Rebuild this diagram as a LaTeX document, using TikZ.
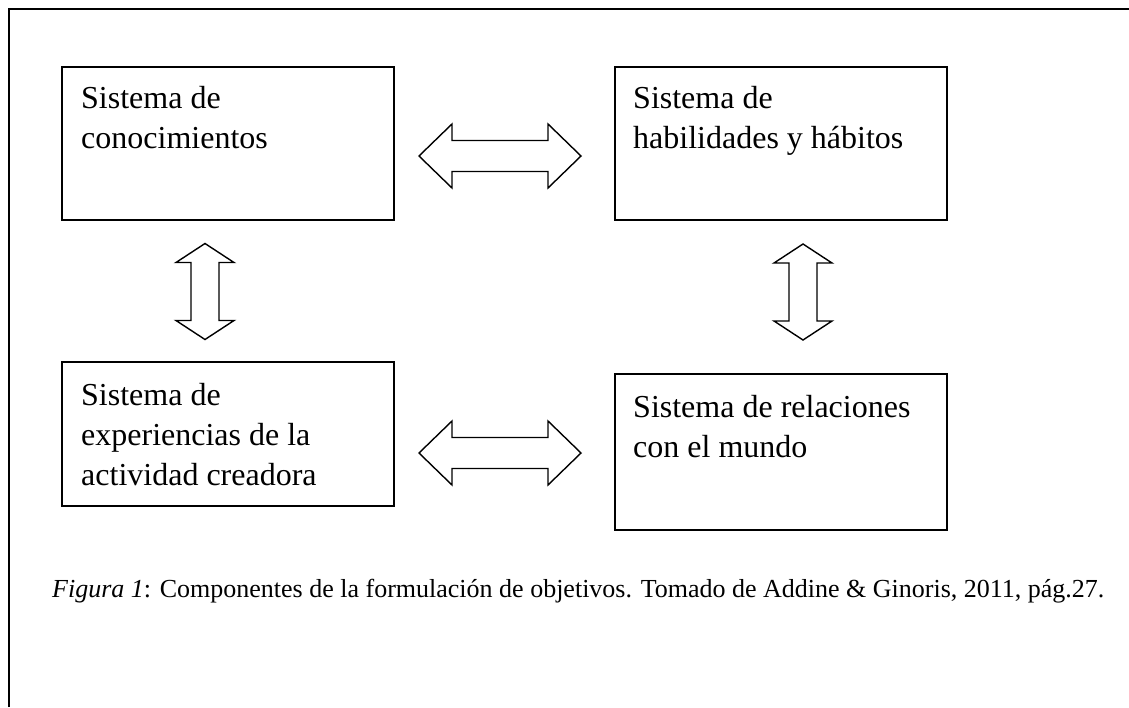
\documentclass[tikz,border=0pt]{standalone}
\usepackage{fontspec}
\setmainfont{Liberation Serif}
\usetikzlibrary{calc,positioning}

\tikzset{
  caja/.style={draw, line width=2pt, minimum width=332pt, minimum height=153pt,
               inner sep=0pt, anchor=north west},
  texto/.style={anchor=north west, inner sep=0pt, align=left,
                font=\fontsize{32}{40}\selectfont},
  flecha/.style={draw, line width=1.4pt, fill=white, line join=miter},
  pics/hflecha/.style={code={%%%%	Flecha doble horizontal
    \path[flecha] (-81,0) -- (-48,-32) -- (-48,-15.5) -- (48,-15.5) -- (48,-32)
      -- (81,0) -- (48,32) -- (48,15.5) -- (-48,15.5) -- (-48,32) -- cycle;}},
  pics/vflecha/.style={code={%%%%	Flecha doble vertical
    \path[flecha] (0,-48) -- (29,-29) -- (14,-29) -- (14,29) -- (29,29)
      -- (0,48) -- (-29,29) -- (-14,29) -- (-14,-29) -- (-29,-29) -- cycle;}}
}

\begin{document}
\begin{tikzpicture}[x=1pt,y=-1pt]
\useasboundingbox (0,0) rectangle (1129,707);

%%%%%%%%%%%%%%%%%%%%%%%%%%%%%%%%%%%%%%%%%%%%%%%% 	MARCO
\draw[line width=2pt] (9,707) -- (9,9) -- (1129,9);

%%%%%%%%%%%%%%%%%%%%%%%%%%%%%%%%%%%%%%%%%%%%%%%% 	CAJAS
\node[caja] (conoc) at (61,66) {};
\node[caja] (habil) at (614,66) {};
\node[caja, minimum height=144pt] (exper) at (61,361) {};
\node[caja, minimum height=156pt] (relac) at (614,373) {};

\node[texto] (tconoc) at ($(conoc.north west)+(20,20)$) {Sistema de\\conocimientos};
\node[texto] (thabil) at ($(habil.north west)+(19,20)$) {Sistema de\\habilidades y hábitos};
\node[texto] (texper) at ($(exper.north west)+(20,22)$) {Sistema de\\experiencias de la\\actividad creadora};
\node[texto] (trelac) at ($(relac.north west)+(19,22)$) {Sistema de relaciones\\con el mundo};

%%%%%%%%%%%%%%%%%%%%%%%%%%%%%%%%%%%%%%%%%%%%%%%% 	FLECHAS
\pic at ($(conoc.east)!.5!(habil.west)+(-4.5,12.5)$) {hflecha};
\pic at ($(exper.east)!.5!(relac.west)+(-4.5,10)$) {hflecha};
\pic at ($(conoc.south)!.5!(exper.north)+(-23,0.5)$) {vflecha};
\pic at ($(habil.south)!.5!(relac.north)+(22,-5)$) {vflecha};

%%%%%%%%%%%%%%%%%%%%%%%%%%%%%%%%%%%%%%%%%%%%%%%% 	PIE DE FIGURA
\node[anchor=base west, inner sep=0pt, font=\fontsize{26}{30}\selectfont] (pie) at (52,597)
  {\textit{Figura 1}: Componentes de la formulación de objetivos. Tomado de Addine \& Ginoris, 2011, pág.27.};

\end{tikzpicture}
\end{document}
